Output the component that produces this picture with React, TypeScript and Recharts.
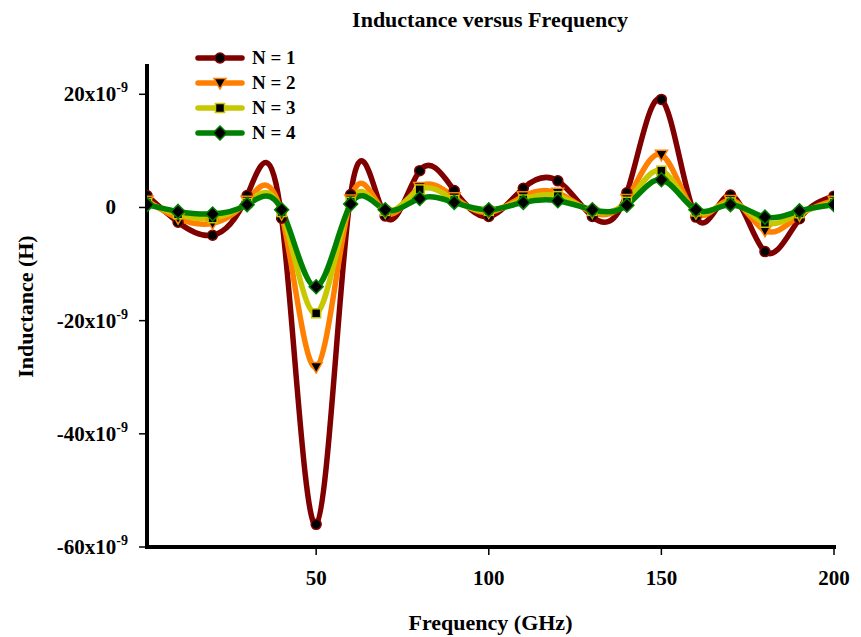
import React from 'react';
import { LineChart, Line, XAxis, YAxis, Legend } from 'recharts';

// Frequency in GHz
const frequency = [1, 10, 20, 30, 40, 50, 60, 70, 80, 90, 100, 110, 120, 130, 140, 150, 160, 170, 180, 190, 200];
// Inductance in H
const n1 = [2.1e-9, -2.6e-9, -4.9e-9, 2.1e-9, -1.9e-9, -56.0e-9, 2.3e-9, -1.5e-9, 6.5e-9, 3.0e-9, -1.6e-9, 3.4e-9, 4.7e-9, -1.6e-9, 2.6e-9, 19.1e-9, -1.7e-9, 2.2e-9, -7.8e-9, -2.0e-9, 2.0e-9];
const n2 = [1.2e-9, -1.9e-9, -2.8e-9, 1.2e-9, -1.2e-9, -28.2e-9, 1.4e-9, -0.9e-9, 3.6e-9, 1.8e-9, -0.9e-9, 2.0e-9, 2.6e-9, -0.9e-9, 1.5e-9, 9.3e-9, -1.0e-9, 1.3e-9, -4.1e-9, -1.4e-9, 1.2e-9];
const n3 = [0.8e-9, -1.2e-9, -1.9e-9, 0.8e-9, -0.8e-9, -18.7e-9, 1.0e-9, -0.6e-9, 3.2e-9, 1.3e-9, -0.6e-9, 1.4e-9, 2.0e-9, -0.6e-9, 1.0e-9, 6.5e-9, -0.7e-9, 0.9e-9, -2.7e-9, -1.0e-9, 0.8e-9];
const n4 = [0.5e-9, -0.7e-9, -1.15e-9, 0.5e-9, -0.4e-9, -14.0e-9, 0.6e-9, -0.4e-9, 1.6e-9, 0.9e-9, -0.4e-9, 0.9e-9, 1.2e-9, -0.4e-9, 0.4e-9, 4.9e-9, -0.4e-9, 0.5e-9, -1.7e-9, -0.6e-9, 0.5e-9];

const seriesNames = ['N = 1', 'N = 2', 'N = 3', 'N = 4'];
const xTicks = [50, 100, 150, 200];
const yTicks = [-60e-9, -40e-9, -20e-9, 0, 20e-9];

const rows = frequency.map((f, i) => ({ f, n1: n1[i], n2: n2[i], n3: n3[i], n4: n4[i] }));

const FONT = "'Liberation Serif', 'Times New Roman', serif";

const COLORS = ['#800000', '#ff8000', '#c8c800', '#008000'];

// Natural cubic spline of y as a function of x (pixel space)
const splineCurve: any = (context: any) => {
  let xs: number[] = [];
  let ys: number[] = [];
  return {
    areaStart() {},
    areaEnd() {},
    lineStart() {
      xs = [];
      ys = [];
    },
    point(x: number, y: number) {
      xs.push(+x);
      ys.push(+y);
    },
    lineEnd() {
      const n = xs.length;
      if (n === 0) return;
      context.moveTo(xs[0], ys[0]);
      if (n === 1) return;
      if (n === 2) {
        context.lineTo(xs[1], ys[1]);
        return;
      }
      const h: number[] = [];
      for (let i = 0; i < n - 1; i++) h.push(xs[i + 1] - xs[i]);
      const m = n - 2;
      const a: number[] = [];
      const b: number[] = [];
      const c: number[] = [];
      const d: number[] = [];
      for (let i = 1; i <= n - 2; i++) {
        a.push(h[i - 1]);
        b.push(2 * (h[i - 1] + h[i]));
        c.push(h[i]);
        d.push(6 * ((ys[i + 1] - ys[i]) / h[i] - (ys[i] - ys[i - 1]) / h[i - 1]));
      }
      for (let i = 1; i < m; i++) {
        const w = a[i] / b[i - 1];
        b[i] -= w * c[i - 1];
        d[i] -= w * d[i - 1];
      }
      const M = new Array(n).fill(0);
      M[m] = d[m - 1] / b[m - 1];
      for (let j = m - 2; j >= 0; j--) M[j + 1] = (d[j] - c[j] * M[j + 2]) / b[j];
      for (let i = 0; i < n - 1; i++) {
        const hi = h[i];
        const sl = (ys[i + 1] - ys[i]) / hi;
        const s0 = sl - (hi * (2 * M[i] + M[i + 1])) / 6;
        const s1 = sl + (hi * (M[i] + 2 * M[i + 1])) / 6;
        context.bezierCurveTo(
          xs[i] + hi / 3,
          ys[i] + (s0 * hi) / 3,
          xs[i + 1] - hi / 3,
          ys[i + 1] - (s1 * hi) / 3,
          xs[i + 1],
          ys[i + 1]
        );
      }
    },
  };
};

const Marker = ({ kind, cx, cy, color }: { kind: number; cx: number; cy: number; color: string }) => {
  if (cx == null || cy == null || isNaN(cx) || isNaN(cy)) return null;
  if (kind === 0) return <circle cx={cx} cy={cy} r={5} fill="#000" stroke={color} strokeWidth={1.5} />;
  if (kind === 1)
    return (
      <polygon
        points={`${cx - 6},${cy - 4.5} ${cx + 6},${cy - 4.5} ${cx},${cy + 6}`}
        fill="#000"
        stroke={color}
        strokeWidth={1.5}
      />
    );
  if (kind === 2) return <rect x={cx - 4.5} y={cy - 4.5} width={9} height={9} fill="#000" stroke={color} strokeWidth={1.5} />;
  return (
    <polygon
      points={`${cx},${cy - 7} ${cx + 7},${cy} ${cx},${cy + 7} ${cx - 7},${cy}`}
      fill="#000"
      stroke={color}
      strokeWidth={1.5}
    />
  );
};

const makeDot = (kind: number) => (props: any) => (
  <Marker key={`m${kind}-${props.index}`} kind={kind} cx={props.cx} cy={props.cy} color={COLORS[kind]} />
);

const YTick = (props: any) => {
  const { x, y, payload } = props;
  const v = Math.round(payload.value * 1e9);
  if (v === 0) {
    return (
      <text x={x - 21} y={y} dy={7} textAnchor="end" fontFamily={FONT} fontWeight="bold" fontSize={21} fill="#000">
        0
      </text>
    );
  }
  return (
    <text x={x - 9} y={y} dy={7} textAnchor="end" fontFamily={FONT} fontWeight="bold" fontSize={21} fill="#000">
      <tspan>{`${v}x10`}</tspan>
      <tspan dy={-9} fontSize={14}>
        -9
      </tspan>
    </text>
  );
};

const XTick = (props: any) => {
  const { x, y, payload } = props;
  return (
    <text x={x} y={y} dy={28} textAnchor="middle" fontFamily={FONT} fontWeight="bold" fontSize={21} fill="#000">
      {payload.value}
    </text>
  );
};

const LegendContent = () => (
  <div style={{ fontFamily: FONT, fontWeight: 'bold', fontSize: 19, color: '#000' }}>
    {seriesNames.map((name, i) => (
      <div key={name} style={{ display: 'flex', alignItems: 'center', height: 25 }}>
        <svg width={57} height={16} style={{ display: 'block' }}>
          <line x1={3} y1={8} x2={47} y2={8} stroke={COLORS[i]} strokeWidth={5.5} strokeLinecap="round" />
          <Marker kind={i} cx={25} cy={8} color={COLORS[i]} />
        </svg>
        <span style={{ lineHeight: '25px' }}>{name}</span>
      </div>
    ))}
  </div>
);

const YTitle = (props: any) => {
  const vb = props.viewBox || {};
  const cx = 25;
  const cy = vb.y + vb.height / 2;
  return (
    <text
      x={cx}
      y={cy}
      transform={`rotate(-90, ${cx}, ${cy})`}
      textAnchor="middle"
      dominantBaseline="central"
      fontFamily={FONT}
      fontWeight="bold"
      fontSize={22}
      fill="#000"
    >
      Inductance (H)
    </text>
  );
};

const XTitle = (props: any) => {
  const vb = props.viewBox || {};
  const cx = vb.x + vb.width / 2;
  return (
    <text x={cx} y={vb.y + 83} textAnchor="middle" fontFamily={FONT} fontWeight="bold" fontSize={22} fill="#000">
      Frequency (GHz)
    </text>
  );
};

export default function App() {
  const keys = ['n1', 'n2', 'n3', 'n4'];
  return (
    <div style={{ position: 'absolute', left: 0, top: 0, width: 861, height: 637, background: '#fff' }}>
      <div
        style={{
          position: 'absolute',
          left: 0,
          width: 980,
          top: 5,
          textAlign: 'center',
          fontFamily: FONT,
          fontWeight: 'bold',
          fontSize: 22,
          lineHeight: '30px',
          color: '#000',
        }}
      >
        Inductance versus Frequency
      </div>
      <LineChart width={861} height={637} data={rows} margin={{ top: 66, right: 27, bottom: 0, left: 0 }}>
        <XAxis
          dataKey="f"
          type="number"
          domain={[1, 200]}
          ticks={xTicks}
          allowDataOverflow
          height={90}
          tickSize={8}
          tick={<XTick />}
          axisLine={{ stroke: '#000', strokeWidth: 4, strokeLinecap: 'square' }}
          tickLine={{ stroke: '#000', strokeWidth: 1.5 }}
          label={{ content: <XTitle /> }}
        />
        <YAxis
          type="number"
          domain={[-60e-9, 25e-9]}
          ticks={yTicks}
          allowDataOverflow
          width={147}
          tickSize={8}
          tick={<YTick />}
          axisLine={{ stroke: '#000', strokeWidth: 4, strokeLinecap: 'square' }}
          tickLine={{ stroke: '#000', strokeWidth: 1.5 }}
          label={{ content: <YTitle /> }}
        />
        <Legend
          layout="horizontal"
          verticalAlign="middle"
          align="center"
          content={<LegendContent />}
          wrapperStyle={{ left: 195, top: 45, width: 'auto', height: 'auto' }}
        />
        {keys.map((k, i) => (
          <Line
            key={k}
            dataKey={k}
            name={seriesNames[i]}
            type={splineCurve}
            stroke={COLORS[i]}
            strokeWidth={5.5}
            dot={makeDot(i)}
            activeDot={false}
            isAnimationActive={false}
          />
        ))}
      </LineChart>
    </div>
  );
}
